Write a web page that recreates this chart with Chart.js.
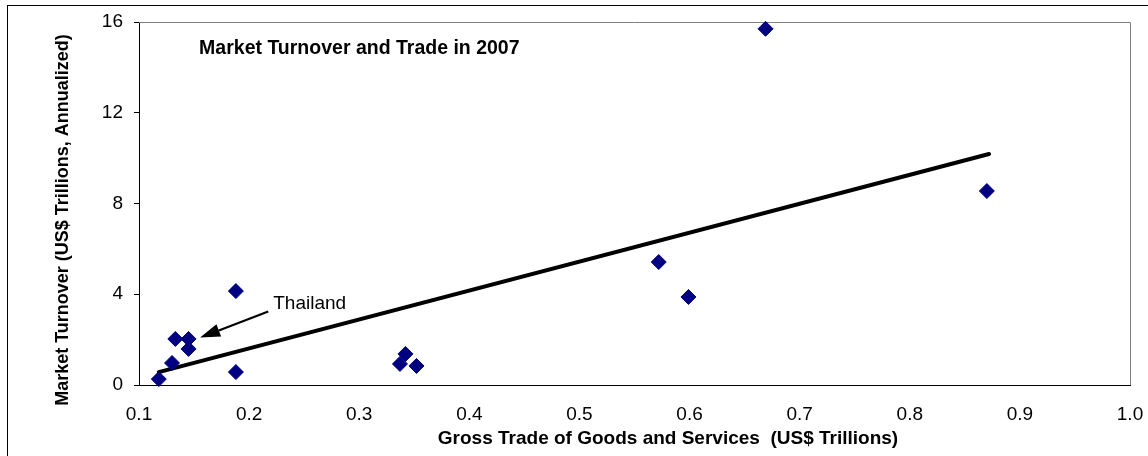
<!DOCTYPE html>
<html lang="en">
<head>
  <meta charset="UTF-8" />
  <title>Market Turnover and Trade in 2007</title>
  <script src="https://cdn.jsdelivr.net/npm/chart.js"></script>
  <style>
    html, body { margin: 0; padding: 0; background: #fff; overflow: hidden; }
    canvas { display: block; }
  </style>
</head>
<body>
  <canvas id="scatter" width="1148" height="456"></canvas>

  <script>
    // gross trade (x) vs market turnover (y), US$ trillions
    const tradeX = [0.118, 0.130, 0.133, 0.145, 0.145, 0.188, 0.188, 0.337, 0.342, 0.352, 0.572, 0.599, 0.669, 0.870];
    const turnoverY = [0.26, 0.97, 2.03, 2.03, 1.59, 4.14, 0.57, 0.93, 1.37, 0.84, 5.42, 3.88, 15.7, 8.55];
    // trend line end points as drawn
    const trendX = [0.118, 0.872];
    const trendY = [0.57, 10.18];
    const xTicks = [0.1, 0.2, 0.3, 0.4, 0.5, 0.6, 0.7, 0.8, 0.9, 1.0];
    const yTicks = [0, 4, 8, 12, 16];

    const FONT = "'Liberation Sans', Arial, sans-serif";

    const points = tradeX.map((x, i) => ({ x: x, y: turnoverY[i] }));
    const trend = trendX.map((x, i) => ({ x: x, y: trendY[i] }));

    const extras = {
      id: 'extras',
      beforeDraw(chart) {
        const ctx = chart.ctx;
        ctx.save();
        ctx.fillStyle = '#fff';
        ctx.fillRect(0, 0, chart.width, chart.height);
        ctx.strokeStyle = '#000';
        ctx.lineWidth = 1;
        ctx.strokeRect(7.5, 5.5, chart.width + 20, chart.height + 20);
        ctx.restore();
      },
      beforeDatasetsDraw(chart) {
        const { ctx, chartArea: a } = chart;
        ctx.save();
        ctx.strokeStyle = '#808080';
        ctx.lineWidth = 1;
        ctx.beginPath();
        ctx.moveTo(a.left, a.top + 0.5);
        ctx.lineTo(a.right + 0.5, a.top + 0.5);
        ctx.lineTo(a.right + 0.5, a.bottom);
        ctx.stroke();
        ctx.restore();
      },
      afterDraw(chart) {
        const { ctx, scales: { x, y } } = chart;
        ctx.save();
        ctx.fillStyle = '#000';

        // plot title
        ctx.font = 'bold 19.5px ' + FONT;
        ctx.textBaseline = 'alphabetic';
        ctx.textAlign = 'left';
        ctx.fillText('Market Turnover and Trade in 2007', x.getPixelForValue(0.1546), y.getPixelForValue(14.6));

        // Thailand label + arrow
        ctx.font = '19px ' + FONT;
        ctx.fillText('Thailand', x.getPixelForValue(0.2219), y.getPixelForValue(3.37));
        const x0 = x.getPixelForValue(0.2174), y0 = y.getPixelForValue(3.24);
        const x1 = x.getPixelForValue(0.1555), y1 = y.getPixelForValue(2.09);
        const ang = Math.atan2(y1 - y0, x1 - x0);
        const headLen = 20, headW = 6.5;
        const bx = x1 - headLen * Math.cos(ang), by = y1 - headLen * Math.sin(ang);
        ctx.strokeStyle = '#000';
        ctx.lineWidth = 2.2;
        ctx.beginPath();
        ctx.moveTo(x0, y0);
        ctx.lineTo(bx, by);
        ctx.stroke();
        ctx.beginPath();
        ctx.moveTo(x1, y1);
        ctx.lineTo(bx + headW * Math.sin(ang), by - headW * Math.cos(ang));
        ctx.lineTo(bx - headW * Math.sin(ang), by + headW * Math.cos(ang));
        ctx.closePath();
        ctx.fill();

        // axis titles
        ctx.font = 'bold 19px ' + FONT;
        ctx.textAlign = 'center';
        ctx.textBaseline = 'alphabetic';
        ctx.fillText('Gross Trade of Goods and Services  (US$ Trillions)', 668, 444);

        ctx.font = 'bold 18px ' + FONT;
        ctx.translate(68, 220);
        ctx.rotate(-Math.PI / 2);
        ctx.fillText('Market Turnover (US$ Trillions, Annualized)', 0, 0);
        ctx.restore();
      }
    };

    new Chart(document.getElementById('scatter'), {
      type: 'scatter',
      data: {
        datasets: [
          {
            label: 'Countries',
            data: points,
            pointStyle: 'rectRot',
            pointRadius: 7.5,
            pointHoverRadius: 7.5,
            backgroundColor: '#000080',
            borderColor: '#000080',
            borderWidth: 1,
            clip: false,
            order: 1
          },
          {
            label: 'Trend',
            type: 'line',
            data: trend,
            borderColor: '#000',
            borderWidth: 4,
            borderCapStyle: 'round',
            pointRadius: 0,
            fill: false,
            order: 2
          }
        ]
      },
      options: {
        responsive: false,
        animation: false,
        devicePixelRatio: 1,
        layout: { padding: { left: 0, top: 22, right: 18, bottom: 0 } },
        plugins: {
          legend: { display: false },
          tooltip: { enabled: false }
        },
        scales: {
          x: {
            type: 'linear',
            min: xTicks[0],
            max: xTicks[xTicks.length - 1],
            afterFit: s => { s.height = 71; s.paddingLeft = 0; s.paddingRight = 0; },
            afterBuildTicks: s => { s.ticks = xTicks.map(v => ({ value: v })); },
            grid: { display: false, drawTicks: false, tickLength: 0 },
            border: { display: true, color: '#000', width: 1 },
            ticks: {
              color: '#000',
              font: { family: FONT, size: 19 },
              padding: 18,
              maxRotation: 0,
              callback: v => Number(v).toFixed(1)
            }
          },
          y: {
            type: 'linear',
            min: yTicks[0],
            max: yTicks[yTicks.length - 1],
            afterFit: s => { s.width = 139; s.paddingTop = 0; s.paddingBottom = 0; },
            afterBuildTicks: s => { s.ticks = yTicks.map(v => ({ value: v })); },
            grid: { drawOnChartArea: false, drawTicks: true, tickLength: 5, color: '#000' },
            border: { display: true, color: '#000', width: 1 },
            ticks: {
              color: '#000',
              font: { family: FONT, size: 19 },
              padding: 11
            }
          }
        }
      },
      plugins: [extras]
    });
  </script>
</body>
</html>
